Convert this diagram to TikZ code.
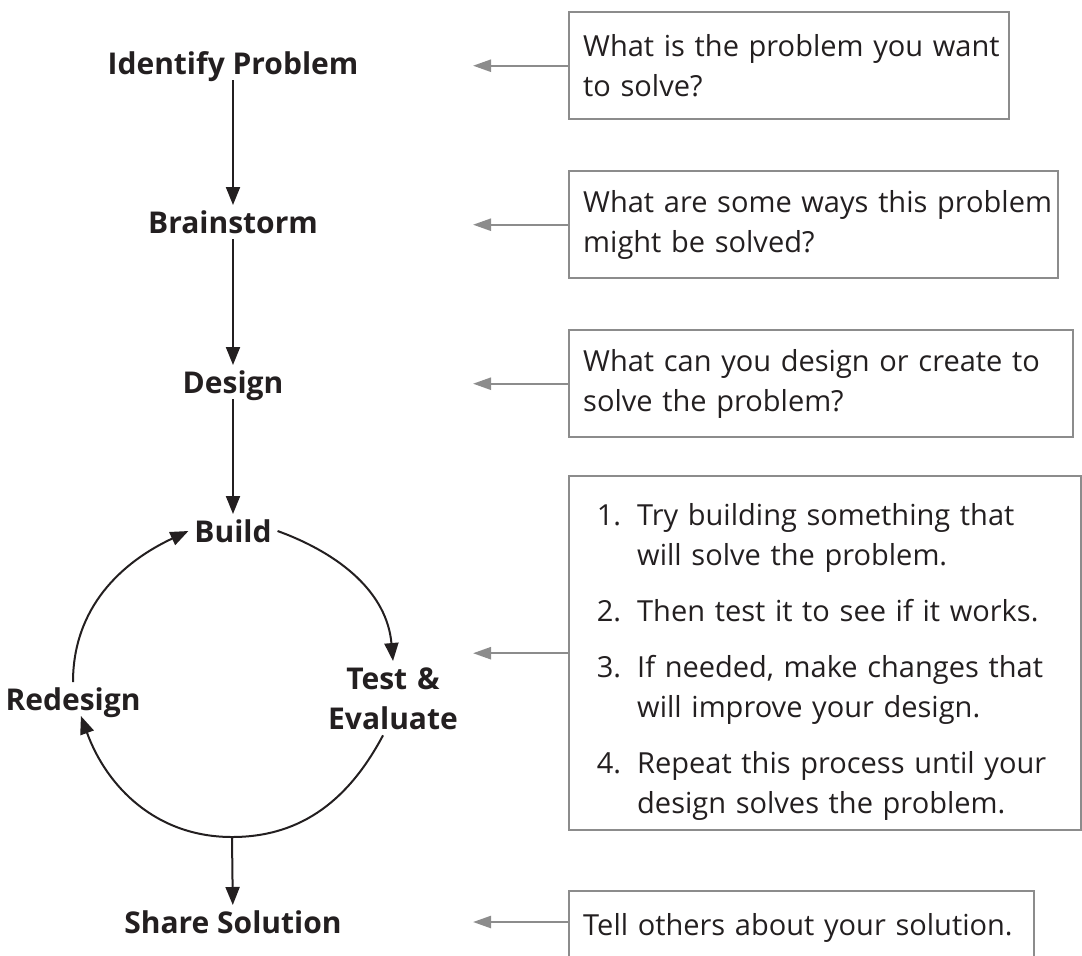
\documentclass[tikz,border=0pt]{standalone}
\usepackage{fontspec}
\setmainfont{Open Sans}
\usepackage{enumitem}
\usetikzlibrary{arrows.meta}
\definecolor{ink}{HTML}{231F20}
\definecolor{frame}{HTML}{8C8C8C}

\begin{document}
\begin{tikzpicture}[
  x=0.5pt, y=-0.5pt,
  stage/.style={anchor=base, inner sep=0pt, outer sep=3pt, text height=11pt, text depth=0pt,
    text=ink, font=\bfseries\fontsize{15}{20}\selectfont},
  note/.style={draw=frame, line width=1.2pt, anchor=north west, inner xsep=0pt, align=left,
    text=ink, font=\fontsize{14.5}{20}\selectfont, execute at begin node={\leftskip=7pt}},
  arr/.style={-{Triangle[length=9pt,width=7pt]}, line width=1pt, draw=ink},
  garr/.style={-{Triangle[length=9pt,width=6pt]}, line width=1.2pt, draw=frame}
]
\useasboundingbox (0,0) rectangle (1082,955);

\node[stage] (ident) at (233,74) {Identify Problem};
\node[stage] (brain) at (233,233) {Brainstorm};
\node[stage] (design) at (233,393) {Design};
\node[stage] (build) at (233,542) {Build};
\node[stage, text width=70pt, align=center, text depth={}] (test) at (393,689) {Test \&\\Evaluate};
\node[stage] (redesign) at (73,710) {Redesign};
\node[stage] (share) at (233,933) {Share Solution};
\coordinate (bot) at (232,837);

\node[note, minimum height=53.5pt, text width=220pt] (box1) at (568,11)
  {What is the problem you want\\to solve?};
\node[note, minimum height=53.5pt, text width=244.5pt] (box2) at (568,170)
  {What are some ways this problem\\might be solved?};
\node[note, minimum height=53.5pt, text width=252pt] (box3) at (568,329)
  {What can you design or create to\\solve the problem?};
\node[note, minimum height=177pt, text width=256pt] (box4) at (568,475)
  {\begin{enumerate}[nosep, itemsep=8pt, leftmargin=34pt, labelsep=8pt]
    \item Try building something that\\will solve the problem.
    \item Then test it to see if it works.
    \item If needed, make changes that\\will improve your design.
    \item Repeat this process until your\\design solves the problem.
  \end{enumerate}};
\node[note, text width=232.5pt, inner ysep=10pt, text height=12pt, text depth=30pt] (box5) at (568,890)
  {Tell others about your solution.};

\coordinate (tip) at (473,0);

\draw[arr] (ident) -- (brain);
\draw[arr] (brain) -- (design);
\draw[arr] (design) -- (build);
\draw[arr] (build.east) to[out=-20,in=95] (test.north);
\draw[arr] (test.-105) to[out=-118,in=0] (bot) to[out=180,in=-70] (redesign.-65);
\draw[arr] (redesign.north) to[out=90,in=205] (build.west);
\draw[arr] (bot) -- (share);

\draw[garr] (box1.west) -- (box1.west -| tip);
\draw[garr] (box2.west) -- (box2.west -| tip);
\draw[garr] (box3.west) -- (box3.west -| tip);
\draw[garr] (box4.west) -- (box4.west -| tip);
\draw[garr] (box5.west |- share) -- (share -| tip);
\end{tikzpicture}
\end{document}
